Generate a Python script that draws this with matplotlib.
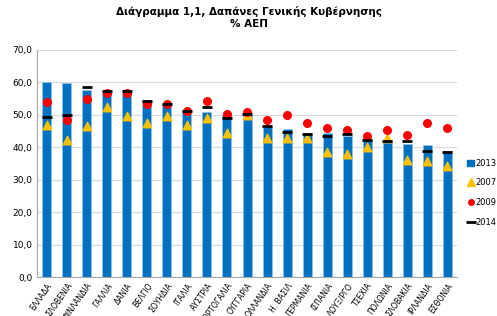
import numpy as np
import matplotlib.pyplot as plt
from matplotlib.lines import Line2D
from matplotlib.patches import Patch

countries = ["ΕΛΛΑΔΑ", "ΣΛΟΒΕΝΙΑ", "ΦΙΝΛΑΝΔΙΑ", "ΓΑΛΛΙΑ", "ΔΑΝΙΑ", "ΒΕΛΓΙΟ",
             "ΣΟΥΗΔΙΑ", "ΙΤΑΛΙΑ", "ΑΥΣΤΡΙΑ", "ΠΟΡΤΟΓΑΛΙΑ", "ΟΥΓΓΑΡΙΑ", "ΟΛΛΑΝΔΙΑ",
             "Η. ΒΑΣΙΛ", "ΓΕΡΜΑΝΙΑ", "ΙΣΠΑΝΙΑ", "ΛΟΥΞ/ΡΓΟ", "ΤΣΕΧΙΑ", "ΠΟΛΩΝΙΑ",
             "ΣΛΟΒΑΚΙΑ", "ΙΡΛΑΝΔΙΑ", "ΕΣΘΟΝΙΑ"]
y2013 = [60.1, 59.7, 57.7, 57.2, 57.2, 54.6, 53.3, 51.2, 50.8, 50.0, 49.7,
         46.7, 45.6, 44.3, 44.3, 43.5, 42.3, 42.1, 41.1, 40.6, 39.0]
y2007 = [47.0, 42.3, 46.7, 52.3, 49.5, 47.4, 49.5, 46.8, 49.1, 44.4, 49.8,
         42.8, 42.8, 42.8, 38.7, 38.0, 40.1, 43.0, 36.2, 35.9, 34.3]
y2009 = [54.1, 48.5, 54.8, 56.8, 56.8, 53.4, 53.2, 51.3, 54.2, 50.3, 51.0,
         48.3, 49.8, 47.4, 45.8, 45.2, 43.6, 45.3, 43.8, 47.6, 46.1]
y2014 = [49.4, 49.8, 58.7, 57.4, 57.4, 54.4, 53.2, 51.2, 52.3, 49.0, 50.3,
         46.6, 44.6, 44.0, 43.5, 44.2, 42.1, 42.0, 41.8, 39.0, 38.7]

plt.rcParams['font.family'] = ['DejaVu Sans']
fig = plt.figure(figsize=(4.97, 3.16), dpi=100)
ax = fig.add_axes([0.074, 0.123, 0.846, 0.719])

x = np.arange(len(countries))
ax.bar(x, y2013, width=0.45, color="#0070C0", edgecolor="#8EC3EA", linewidth=0.6, zorder=2)
ax.scatter(x, y2007, marker="^", s=38, color="#FFC000", zorder=3)
ax.scatter(x, y2009, marker="o", s=30, color="#FF0000", zorder=4)
ax.scatter(x, y2014, marker="_", s=60, color="black", linewidths=2, zorder=5)

ax.set_xlim(-0.5, len(countries) - 0.5)
ax.set_ylim(0, 70)
ax.set_yticks(np.arange(0, 71, 10))
ax.set_yticklabels([f"{v:.1f}".replace(".", ",") for v in np.arange(0, 71, 10)], fontsize=6.5)
ax.set_xticks(x)
ax.set_xticklabels(countries, rotation=55, ha="right", rotation_mode="anchor", fontsize=5.5)
ax.tick_params(axis="both", length=0, pad=3)
ax.yaxis.grid(True, color="#D9D9D9", linewidth=0.8, zorder=0)
ax.set_axisbelow(True)
for s in ["top", "right"]:
    ax.spines[s].set_visible(False)
ax.spines["left"].set_color("#A6A6A6")
ax.spines["bottom"].set_color("#A6A6A6")

fig.text(0.5, 0.945, "Διάγραμμα 1,1, Δαπάνες Γενικής Κυβέρνησης\n% ΑΕΠ",
         ha="center", va="center", fontsize=7.5, fontweight="bold", linespacing=1.3)

handles = [Patch(color="#0070C0"),
           Line2D([], [], marker="^", color="#FFC000", linestyle="", markersize=6),
           Line2D([], [], marker="o", color="#FF0000", linestyle="", markersize=4),
           Line2D([], [], marker="_", color="black", linestyle="", markersize=7, markeredgewidth=2)]
fig.legend(handles, ["2013", "2007", "2009", "2014"], loc="center left",
           bbox_to_anchor=(0.925, 0.39), frameon=False, fontsize=6,
           handlelength=0.8, handletextpad=0.2, labelspacing=1.3)

plt.savefig("out.png", dpi=100)
